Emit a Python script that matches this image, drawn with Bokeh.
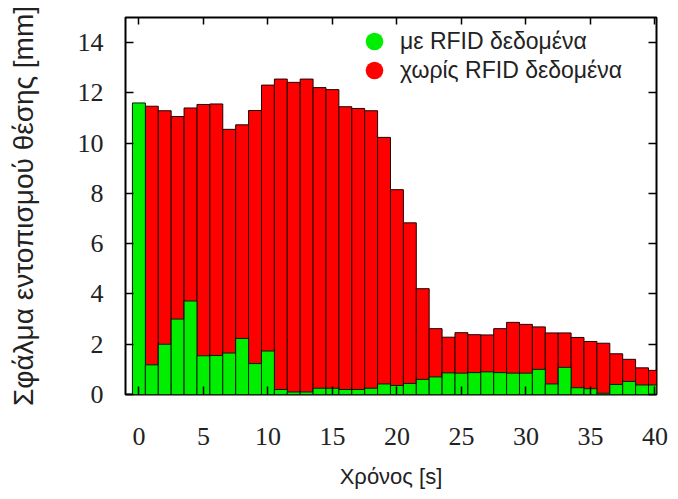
from bokeh.plotting import figure
from bokeh.models import (Range1d, FixedTicker, LinearAxis, Legend, LegendItem,
                          ColumnDataSource)
from bokeh.embed import file_html
from bokeh.resources import INLINE

# Time steps [s]
time_s = list(range(41))

# Localisation error with RFID data [mm]
with_rfid = [11.6, 1.18, 2.0, 3.0, 3.72, 1.54, 1.55, 1.65, 2.23, 1.23,
             1.73, 0.2, 0.1, 0.1, 0.25, 0.25, 0.2, 0.2, 0.25, 0.42,
             0.36, 0.44, 0.6, 0.7, 0.86, 0.85, 0.87, 0.9, 0.87, 0.85,
             0.85, 1.0, 0.42, 1.08, 0.27, 0.23, 0.05, 0.4, 0.52, 0.38,
             0.38]

# Localisation error without RFID data [mm]
without_rfid = [11.5, 11.47, 11.29, 11.06, 11.4, 11.54, 11.56, 10.55, 10.73, 11.3,
                12.31, 12.55, 12.42, 12.55, 12.21, 12.13, 11.45, 11.38, 11.29, 10.23,
                8.15, 6.83, 4.21, 2.62, 2.28, 2.46, 2.38, 2.37, 2.62, 2.87,
                2.79, 2.69, 2.45, 2.45, 2.27, 2.11, 2.04, 1.62, 1.4, 1.06,
                0.96]

x_ticks = [0, 5, 10, 15, 20, 25, 30, 35, 40]
y_ticks = [0, 2, 4, 6, 8, 10, 12, 14]

label_with = "με RFID δεδομένα"
label_without = "χωρίς RFID δεδομένα"

GREEN = "#00ee00"
RED = "#ff0000"

p = figure(width=670, height=491, output_backend="svg", toolbar_location=None,
           x_range=Range1d(-1.04, 40.12), y_range=Range1d(0, 15),
           min_border_left=125, min_border_right=14,
           min_border_top=17, min_border_bottom=84)
p.grid.visible = False
p.outline_line_color = "black"
p.outline_line_width = 2
p.background_fill_color = "white"
p.border_fill_color = "white"

src = ColumnDataSource(dict(t=time_s, g=with_rfid, r=without_rfid))
p.vbar(x="t", top="r", bottom=0, width=1.0, source=src,
       fill_color=RED, line_color="#200000", line_width=1)
p.vbar(x="t", top="g", bottom=0, width=1.0, source=src,
       fill_color=GREEN, line_color="#002000", line_width=1)

# legend markers (one empty NaN point each, legend only)
nan = float("nan")
g_leg = p.scatter(x=[nan], y=[nan], marker="circle",
                  fill_color=GREEN, line_color=None)
r_leg = p.scatter(x=[nan], y=[nan], marker="circle",
                  fill_color=RED, line_color=None)

tick_font = "Liberation Serif"
for ax in p.xaxis:
    ax.ticker = FixedTicker(ticks=x_ticks)
    ax.axis_label = "Χρόνος [s]"
for ax in p.yaxis:
    ax.ticker = FixedTicker(ticks=y_ticks)
    ax.axis_label = "Σφάλμα εντοπισμού θέσης [mm]"

for ax in list(p.xaxis) + list(p.yaxis):
    ax.major_tick_in = 8
    ax.major_tick_out = 0
    ax.minor_tick_line_color = None
    ax.axis_line_color = None
    ax.major_tick_line_color = "black"
    ax.major_tick_line_width = 1.5
    ax.major_label_text_font = tick_font
    ax.major_label_text_font_size = "26px"
    ax.major_label_text_color = "#222222"
    ax.axis_label_text_font = "Liberation Sans"
    ax.axis_label_text_font_style = "normal"
    ax.axis_label_text_color = "#222222"

p.xaxis.axis_label_text_font_size = "22px"
p.yaxis.axis_label_text_font_size = "28px"
p.xaxis.major_label_standoff = 33
p.xaxis.axis_label_standoff = 16
p.yaxis.major_label_standoff = 22
p.yaxis.axis_label_standoff = 36

top_ax = LinearAxis(ticker=FixedTicker(ticks=x_ticks), major_label_text_font_size="1px",
                    major_label_text_color=None,
                    major_tick_in=7, major_tick_out=0, minor_tick_line_color=None,
                    axis_line_color=None, major_label_standoff=0,
                    major_tick_line_width=1.5)
right_ax = LinearAxis(ticker=FixedTicker(ticks=y_ticks), major_label_text_font_size="1px",
                      major_label_text_color=None,
                      major_tick_in=8, major_tick_out=0, minor_tick_line_color=None,
                      axis_line_color=None, major_label_standoff=0,
                      major_tick_line_width=1.5)
p.add_layout(top_ax, "above")
p.add_layout(right_ax, "right")

legend_style = dict(padding=0, margin=0, spacing=0,
                    glyph_width=44, glyph_height=44, label_standoff=4,
                    label_height=20, label_text_font="Liberation Sans",
                    label_text_font_size="23px", label_text_color="#222222",
                    background_fill_alpha=0, border_line_color=None)
legend_g = Legend(items=[LegendItem(label=label_with, renderers=[g_leg])],
                  location=(227, 331), **legend_style)
legend_r = Legend(items=[LegendItem(label=label_without, renderers=[r_leg])],
                  location=(227, 302), **legend_style)
p.add_layout(legend_g)
p.add_layout(legend_r)

open("out.html", "w").write(file_html(p, INLINE))
